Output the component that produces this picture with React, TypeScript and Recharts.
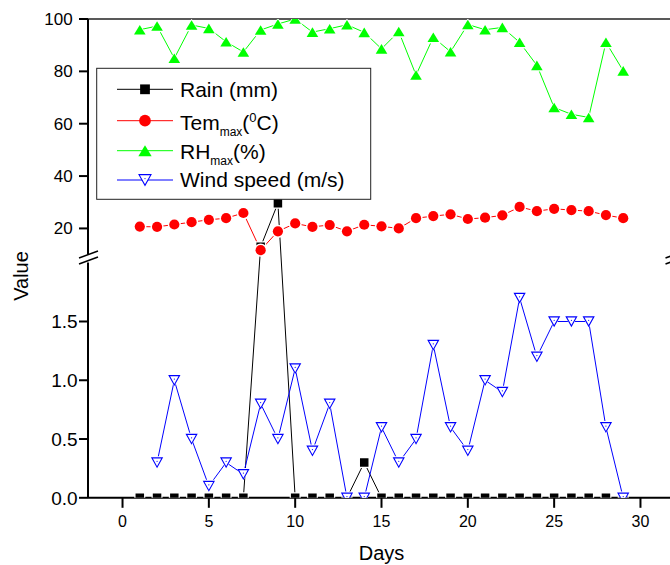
import React from 'react';
import { LineChart, Line, XAxis, YAxis } from 'recharts';

// ---------------- data ----------------
const days = [1, 2, 3, 4, 5, 6, 7, 8, 9, 10, 11, 12, 13, 14, 15, 16, 17, 18, 19, 20, 21, 22, 23, 24, 25, 26, 27, 28, 29];
const rainMm = [0, 0, 0, 0, 0, 0, 0, 13, 29.6, 0, 0, 0, 0, 0.3, 0, 0, 0, 0, 0, 0, 0, 0, 0, 0, 0, 0, 0, 0, 0];
const temMax = [20.7, 20.6, 21.5, 22.4, 23.3, 23.9, 25.9, 11.7, 18.9, 21.9, 20.6, 21.3, 18.9, 21.4, 20.8, 20.0, 23.9, 24.7, 25.4, 23.6, 24.1, 25.0, 28.2, 26.6, 27.5, 27.0, 26.6, 25.1, 23.9];
const rhMax = [95.9, 97.3, 85.0, 97.7, 96.4, 91.3, 87.4, 95.8, 98.1, 100, 95.0, 96.3, 97.8, 94.9, 88.6, 95.2, 78.6, 93.0, 87.5, 97.9, 95.9, 96.8, 91.1, 82.3, 66.2, 63.6, 62.4, 91.1, 80.2];
const windSpeed = [null, 0.3, 1.0, 0.5, 0.1, 0.3, 0.2, 0.8, 0.5, 1.1, 0.4, 0.8, 0, 0, 0.6, 0.3, 0.5, 1.3, 0.6, 0.4, 1.0, 0.9, 1.7, 1.2, 1.5, 1.5, 1.5, 0.6, 0];

const xTicks = [0, 5, 10, 15, 20, 25, 30];
const lowerTicks = [0, 0.5, 1.0, 1.5];
const upperTicks = [20, 40, 60, 80, 100];

const seriesNames = ['Rain (mm)', 'Tem', 'RH', 'Wind speed (m/s)'];

// ---------------- broken y-axis mapping ----------------
const LOW_PER = 117.3;   // axis units per value on lower segment (0..2)
const LOW_MAX = 2;
const UP_START = 242.7;  // axis unit where upper segment (10..100) starts
const UP_BASE = 10;
const UP_PER = 2.6125;
const AXIS_MAX = UP_START + (100 - UP_BASE) * UP_PER;

const toAxis = (v: number | null) =>
  v == null ? null : v <= LOW_MAX ? v * LOW_PER : UP_START + (v - UP_BASE) * UP_PER;

const data = days.map((d, i) => ({
  day: d,
  rain: toAxis(rainMm[i]),
  tem: toAxis(temMax[i]),
  rh: toAxis(rhMax[i]),
  wind: toAxis(windSpeed[i]),
}));

const tickInfo = new Map<string, { text: string; lower: boolean }>();
lowerTicks.forEach((t) => tickInfo.set((toAxis(t) as number).toFixed(2), { text: t.toFixed(1), lower: true }));
upperTicks.forEach((t) => tickInfo.set((toAxis(t) as number).toFixed(2), { text: String(t), lower: false }));
const yTicks = [...lowerTicks, ...upperTicks].map((t) => toAxis(t) as number);

const FONT = '"Liberation Sans", Arial, Helvetica, sans-serif';
const BLACK = '#000';
const RED = '#ff0000';
const GREEN = '#00ff00';
const BLUE = '#0000ff';

// ---------------- marker shapes ----------------
const square = (cx: number, cy: number, s: number) => `M${cx - s / 2},${cy - s / 2}h${s}v${s}h${-s}Z`;
const triUp = (cx: number, cy: number, w: number, h: number) =>
  `M${cx},${cy - h / 2}L${cx + w / 2},${cy + h / 2}L${cx - w / 2},${cy + h / 2}Z`;
const triDown = (cx: number, cy: number, w: number, h: number) =>
  `M${cx - w / 2},${cy - h / 2}L${cx + w / 2},${cy - h / 2}L${cx},${cy + h / 2}Z`;

type Kind = 'rain' | 'tem' | 'rh' | 'wind';

function Marker({ kind, cx, cy, scale = 1, gap = true }: { kind: Kind; cx: number; cy: number; scale?: number; gap?: boolean }) {
  const k = scale;
  if (kind === 'rain') {
    return (
      <g>
        {gap && <path d={square(cx, cy, 11 * k)} fill="#fff" />}
        <path d={square(cx, cy, 8.5 * k)} fill={BLACK} />
      </g>
    );
  }
  if (kind === 'tem') {
    return (
      <g>
        {gap && <circle cx={cx} cy={cy} r={6.6 * k} fill="#fff" />}
        <circle cx={cx} cy={cy} r={5.1 * k} fill={RED} />
      </g>
    );
  }
  if (kind === 'rh') {
    return (
      <g>
        {gap && <path d={triUp(cx, cy, 15 * k, 12.5 * k)} fill="#fff" />}
        <path d={triUp(cx, cy, 11.6 * k, 9.6 * k)} fill={GREEN} />
      </g>
    );
  }
  return (
    <g>
      {gap && <path d={triDown(cx, cy, 14 * k, 12.5 * k)} fill="#fff" />}
      <path d={triDown(cx, cy, 10.4 * k, 9.3 * k)} fill="#fff" stroke={BLUE} strokeWidth={1.1} />
      <circle cx={cx} cy={cy - 1.2 * k} r={0.6} fill={BLUE} />
    </g>
  );
}

const makeDot = (kind: Kind) => (props: any) => {
  const { cx, cy, index } = props;
  if (cx == null || cy == null || Number.isNaN(cx) || Number.isNaN(cy)) {
    return <g key={`${kind}-${index}`} />;
  }
  return (
    <g key={`${kind}-${index}`}>
      <Marker kind={kind} cx={cx} cy={cy} />
    </g>
  );
};

// ---------------- ticks ----------------
const YTick = (props: any) => {
  const { y, payload } = props;
  const info = tickInfo.get(Number(payload.value).toFixed(2));
  if (!info) return <g />;
  return (
    <text
      x={info.lower ? 77.7 : 72.7}
      y={y}
      dy="0.355em"
      textAnchor="end"
      fontSize={info.lower ? 19 : 17}
      fontFamily={FONT}
      fill="#000"
    >
      {info.text}
    </text>
  );
};

const XTick = (props: any) => {
  const { x, payload } = props;
  return (
    <text x={x} y={521.7} dy="0.355em" textAnchor="middle" fontSize={16} fontFamily={FONT} fill="#000">
      {payload.value}
    </text>
  );
};

// ---------------- legend (overlay) ----------------
const legendRows: { kind: Kind; color: string; y: number; baseline: number }[] = [
  { kind: 'rain', color: BLACK, y: 89.3, baseline: 96.7 },
  { kind: 'tem', color: RED, y: 120.7, baseline: 130 },
  { kind: 'rh', color: GREEN, y: 150.7, baseline: 159.3 },
  { kind: 'wind', color: BLUE, y: 180, baseline: 186.7 },
];

function LegendText({ i, baseline }: { i: number; baseline: number }) {
  const common = { x: 180, y: baseline, fontSize: 21, fontFamily: FONT, fill: '#000' } as any;
  if (i === 1) {
    return (
      <text {...common}>
        <tspan>{seriesNames[1]}</tspan>
        <tspan dy={6} fontSize={12}>max</tspan>
        <tspan dy={-6}>(</tspan>
        <tspan dy={-8} fontSize={13}>0</tspan>
        <tspan dy={8}>C)</tspan>
      </text>
    );
  }
  if (i === 2) {
    return (
      <text {...common}>
        <tspan>{seriesNames[2]}</tspan>
        <tspan dy={6} fontSize={12}>max</tspan>
        <tspan dy={-6}>(%)</tspan>
      </text>
    );
  }
  return <text {...common}>{seriesNames[i]}</text>;
}

function Overlay() {
  return (
    <svg
      width={670}
      height={565}
      style={{ position: 'absolute', left: 0, top: 0, pointerEvents: 'none' }}
    >
      {/* left axis break */}
      <rect x={85} y={254.5} width={6} height={8} fill="#fff" />
      <line x1={79} y1={258} x2={98} y2={251} stroke="#000" strokeWidth={1.5} />
      <line x1={79} y1={264} x2={98} y2={257} stroke="#000" strokeWidth={1.5} />
      {/* right axis break (mostly outside the frame) */}
      <line x1={665.5} y1={258} x2={684.5} y2={251} stroke="#000" strokeWidth={1.5} />
      <line x1={665.5} y1={264} x2={684.5} y2={257} stroke="#000" strokeWidth={1.5} />
      {/* y axis title */}
      <text
        x={21}
        y={276}
        dy="0.355em"
        textAnchor="middle"
        fontSize={20}
        fontFamily={FONT}
        transform="rotate(-90 21 276)"
      >
        Value
      </text>
      {/* legend */}
      <rect x={96.7} y={68.3} width={274} height={131} fill="#fff" stroke="#222" strokeWidth={1} />
      {legendRows.map((r, i) => (
        <g key={r.kind}>
          <line x1={117} y1={r.y} x2={173} y2={r.y} stroke={r.color} strokeWidth={1} />
          <Marker kind={r.kind} cx={145} cy={r.y} scale={1.15} gap={false} />
          <LegendText i={i} baseline={r.baseline} />
        </g>
      ))}
    </svg>
  );
}

export default function App() {
  return (
    <div
      style={{
        position: 'absolute',
        left: 0,
        top: 0,
        width: 670,
        height: 565,
        overflow: 'hidden',
        background: '#fff',
      }}
    >
      <LineChart
        width={690}
        height={565}
        data={data}
        margin={{ top: 19, right: 15, bottom: 0, left: 0 }}
        style={{ fontFamily: FONT }}
      >
        <XAxis
          dataKey="day"
          type="number"
          domain={[-2, 32]}
          ticks={xTicks}
          interval={0}
          height={67.2}
          tickSize={10}
          axisLine={{ stroke: '#000', strokeWidth: 2 }}
          tickLine={{ stroke: '#000', strokeWidth: 2 }}
          tick={<XTick />}
          label={{ value: 'Days', position: 'insideBottom', offset: 5, fontSize: 20, fill: '#000', fontFamily: FONT }}
        />
        <XAxis
          xAxisId="top"
          orientation="top"
          dataKey="day"
          type="number"
          domain={[-2, 32]}
          ticks={xTicks}
          interval={0}
          height={1}
          mirror
          tickSize={3}
          tick={false}
          axisLine={{ stroke: '#222', strokeWidth: 1.5 }}
          tickLine={{ stroke: '#222', strokeWidth: 1 }}
        />
        <YAxis
          type="number"
          domain={[0, AXIS_MAX]}
          allowDataOverflow
          ticks={yTicks}
          interval={0}
          width={88}
          tickSize={9}
          axisLine={{ stroke: '#000', strokeWidth: 2 }}
          tickLine={{ stroke: '#000', strokeWidth: 2 }}
          tick={<YTick />}
        />
        <Line
          name={seriesNames[0]}
          dataKey="rain"
          stroke={BLACK}
          strokeWidth={1}
          dot={makeDot('rain')}
          activeDot={false}
          isAnimationActive={false}
          type="linear"
        />
        <Line
          name={seriesNames[1]}
          dataKey="tem"
          stroke={RED}
          strokeWidth={1}
          dot={makeDot('tem')}
          activeDot={false}
          isAnimationActive={false}
          type="linear"
        />
        <Line
          name={seriesNames[2]}
          dataKey="rh"
          stroke={GREEN}
          strokeWidth={1}
          dot={makeDot('rh')}
          activeDot={false}
          isAnimationActive={false}
          type="linear"
        />
        <Line
          name={seriesNames[3]}
          dataKey="wind"
          stroke={BLUE}
          strokeWidth={1}
          dot={makeDot('wind')}
          activeDot={false}
          isAnimationActive={false}
          type="linear"
        />
      </LineChart>
      <Overlay />
    </div>
  );
}
